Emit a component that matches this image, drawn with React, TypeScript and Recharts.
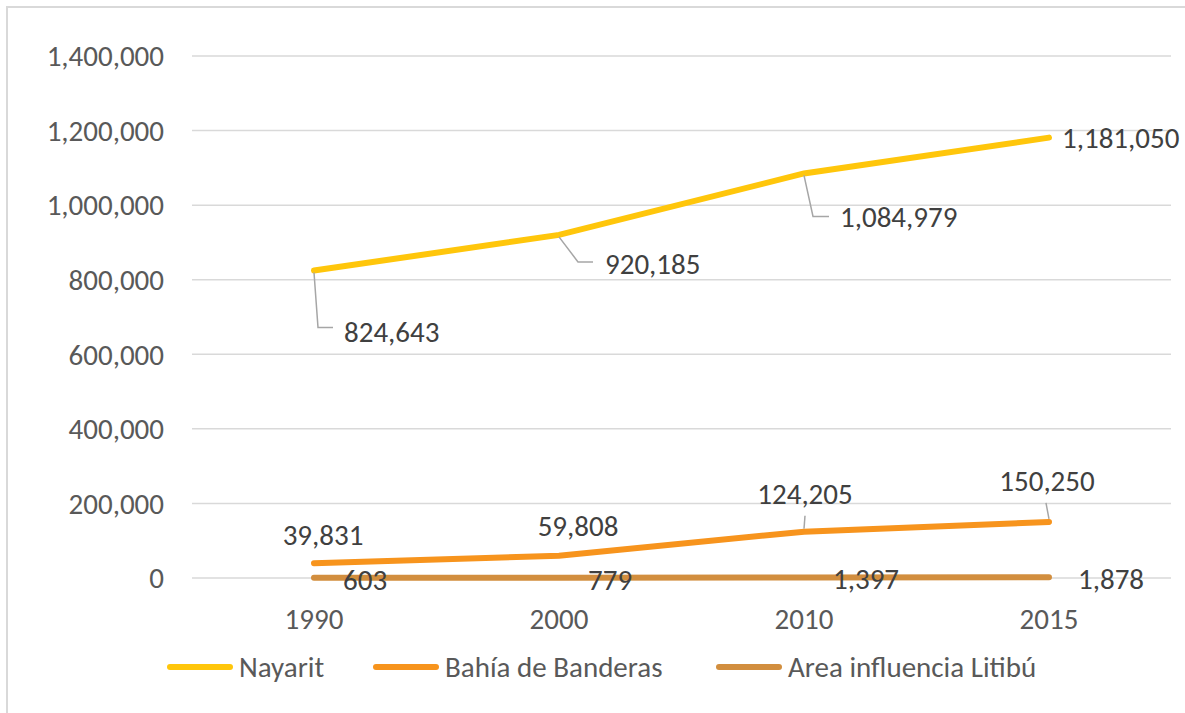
import { LineChart, Line, XAxis, YAxis, CartesianGrid, Legend, LabelList } from 'recharts'

const YEARS = ['1990', '2000', '2010', '2015']
const NAYARIT = [824643, 920185, 1084979, 1181050]
const BAHIA = [39831, 59808, 124205, 150250]
const LITIBU = [603, 779, 1397, 1878]
const Y_TICKS = [0, 200000, 400000, 600000, 800000, 1000000, 1200000, 1400000]

const SERIES = [
  { key: 'nayarit', name: 'Nayarit', color: '#FFC60B' },
  { key: 'bahia', name: 'Bahía de Banderas', color: '#F7941D' },
  { key: 'litibu', name: 'Area influencia Litibú', color: '#D28E3E' },
]

const data = YEARS.map((year, i) => ({
  year,
  nayarit: NAYARIT[i],
  bahia: BAHIA[i],
  litibu: LITIBU[i],
}))

const FONT = 'Carlito, Calibri, Lato, sans-serif'
const TEXT = '#404040'
const AXIS_TEXT = '#595959'
const LEADER = '#a6a6a6'
const FS = 29

const fmt = (v: number) => v.toLocaleString('en-US')

// label placement, relative to the point (excel-style callouts)
const NAYARIT_LABELS = [
  { dx: 30, dy: 61, anchor: 'start', leader: [[0, 2], [4, 57], [19, 57]] },
  { dx: 46, dy: 29, anchor: 'start', leader: [[0, 2], [19, 27], [34, 27]] },
  { dx: 36, dy: 44, anchor: 'start', leader: [[0, 2], [9, 43], [25, 43]] },
  { dx: 13, dy: 0, anchor: 'start', leader: null },
]
const BAHIA_LABELS = [
  { dx: 9, dy: -28, anchor: 'middle', leader: null },
  { dx: 19, dy: -30, anchor: 'middle', leader: null },
  { dx: 1, dy: -38, anchor: 'middle', leader: [[1, -16], [0, -3]] },
  { dx: -2, dy: -41, anchor: 'middle', leader: [[-3, -19], [0, -3]] },
]
const LITIBU_LABELS = YEARS.map(() => ({ dx: 29, dy: 2, anchor: 'start', leader: null }))

// legend item left edges
const LEGEND_X = [0, 206, 549]

function makeLabel(spec: any[]) {
  return (props: any) => {
    const { x, y, value, index } = props
    const s = spec[index]
    if (!s || x == null || y == null) return null
    return (
      <g key={`l-${index}`}>
        {s.leader && (
          <polyline
            points={s.leader.map((p: number[]) => `${x + p[0]},${y + p[1]}`).join(' ')}
            fill="none"
            stroke={LEADER}
            strokeWidth={1.5}
          />
        )}
        <text
          x={x + s.dx}
          y={y + s.dy}
          textAnchor={s.anchor}
          dominantBaseline="central"
          fontFamily={FONT}
          fontSize={FS}
          fill={TEXT}
        >
          {fmt(Number(value))}
        </text>
      </g>
    )
  }
}

function LegendContent() {
  return (
    <div style={{ position: 'relative', height: 34, fontFamily: FONT, fontSize: FS, color: AXIS_TEXT }}>
      {SERIES.map((s, i) => (
        <div
          key={s.key}
          style={{ position: 'absolute', left: LEGEND_X[i], top: 0, height: 34, display: 'flex', alignItems: 'center', whiteSpace: 'nowrap' }}
        >
          <div style={{ width: 66, height: 6, borderRadius: 3, background: s.color, marginRight: 6 }} />
          <span>{s.name}</span>
        </div>
      ))}
    </div>
  )
}

export default function App() {
  return (
    <div style={{ position: 'absolute', left: 0, top: 0, width: 1185, height: 713, overflow: 'hidden', background: '#fff' }}>
      <div
        style={{
          position: 'absolute',
          left: 6,
          top: 6,
          width: 1200,
          height: 730,
          border: '2px solid #d9d9d9',
          boxSizing: 'border-box',
        }}
      />
      <LineChart width={1185} height={713} data={data} margin={{ top: 56, right: 14, bottom: 61, left: 42 }}>
        <CartesianGrid vertical={false} stroke="#d9d9d9" strokeWidth={1.5} />
        <XAxis
          dataKey="year"
          axisLine={false}
          tickLine={false}
          tickSize={0}
          tickMargin={30}
          height={40}
          padding={{ left: 122, right: 122 }}
          tick={{ fontFamily: FONT, fontSize: FS, fill: AXIS_TEXT }}
        />
        <YAxis
          domain={[0, 1400000]}
          ticks={Y_TICKS}
          axisLine={false}
          tickLine={false}
          tickSize={0}
          tickMargin={28}
          width={150}
          tickFormatter={fmt}
          tick={{ fontFamily: FONT, fontSize: FS, fill: AXIS_TEXT }}
        />
        <Legend
          verticalAlign="bottom"
          content={<LegendContent />}
          wrapperStyle={{ position: 'absolute', left: 167, top: 650, width: 1000, height: 34 }}
        />
        <Line dataKey="nayarit" name="Nayarit" stroke={SERIES[0].color} strokeWidth={6} strokeLinecap="round" dot={false} isAnimationActive={false}>
          <LabelList dataKey="nayarit" content={makeLabel(NAYARIT_LABELS)} />
        </Line>
        <Line dataKey="bahia" name="Bahía de Banderas" stroke={SERIES[1].color} strokeWidth={6} strokeLinecap="round" dot={false} isAnimationActive={false}>
          <LabelList dataKey="bahia" content={makeLabel(BAHIA_LABELS)} />
        </Line>
        <Line dataKey="litibu" name="Area influencia Litibú" stroke={SERIES[2].color} strokeWidth={6} strokeLinecap="round" dot={false} isAnimationActive={false}>
          <LabelList dataKey="litibu" content={makeLabel(LITIBU_LABELS)} />
        </Line>
      </LineChart>
    </div>
  )
}
